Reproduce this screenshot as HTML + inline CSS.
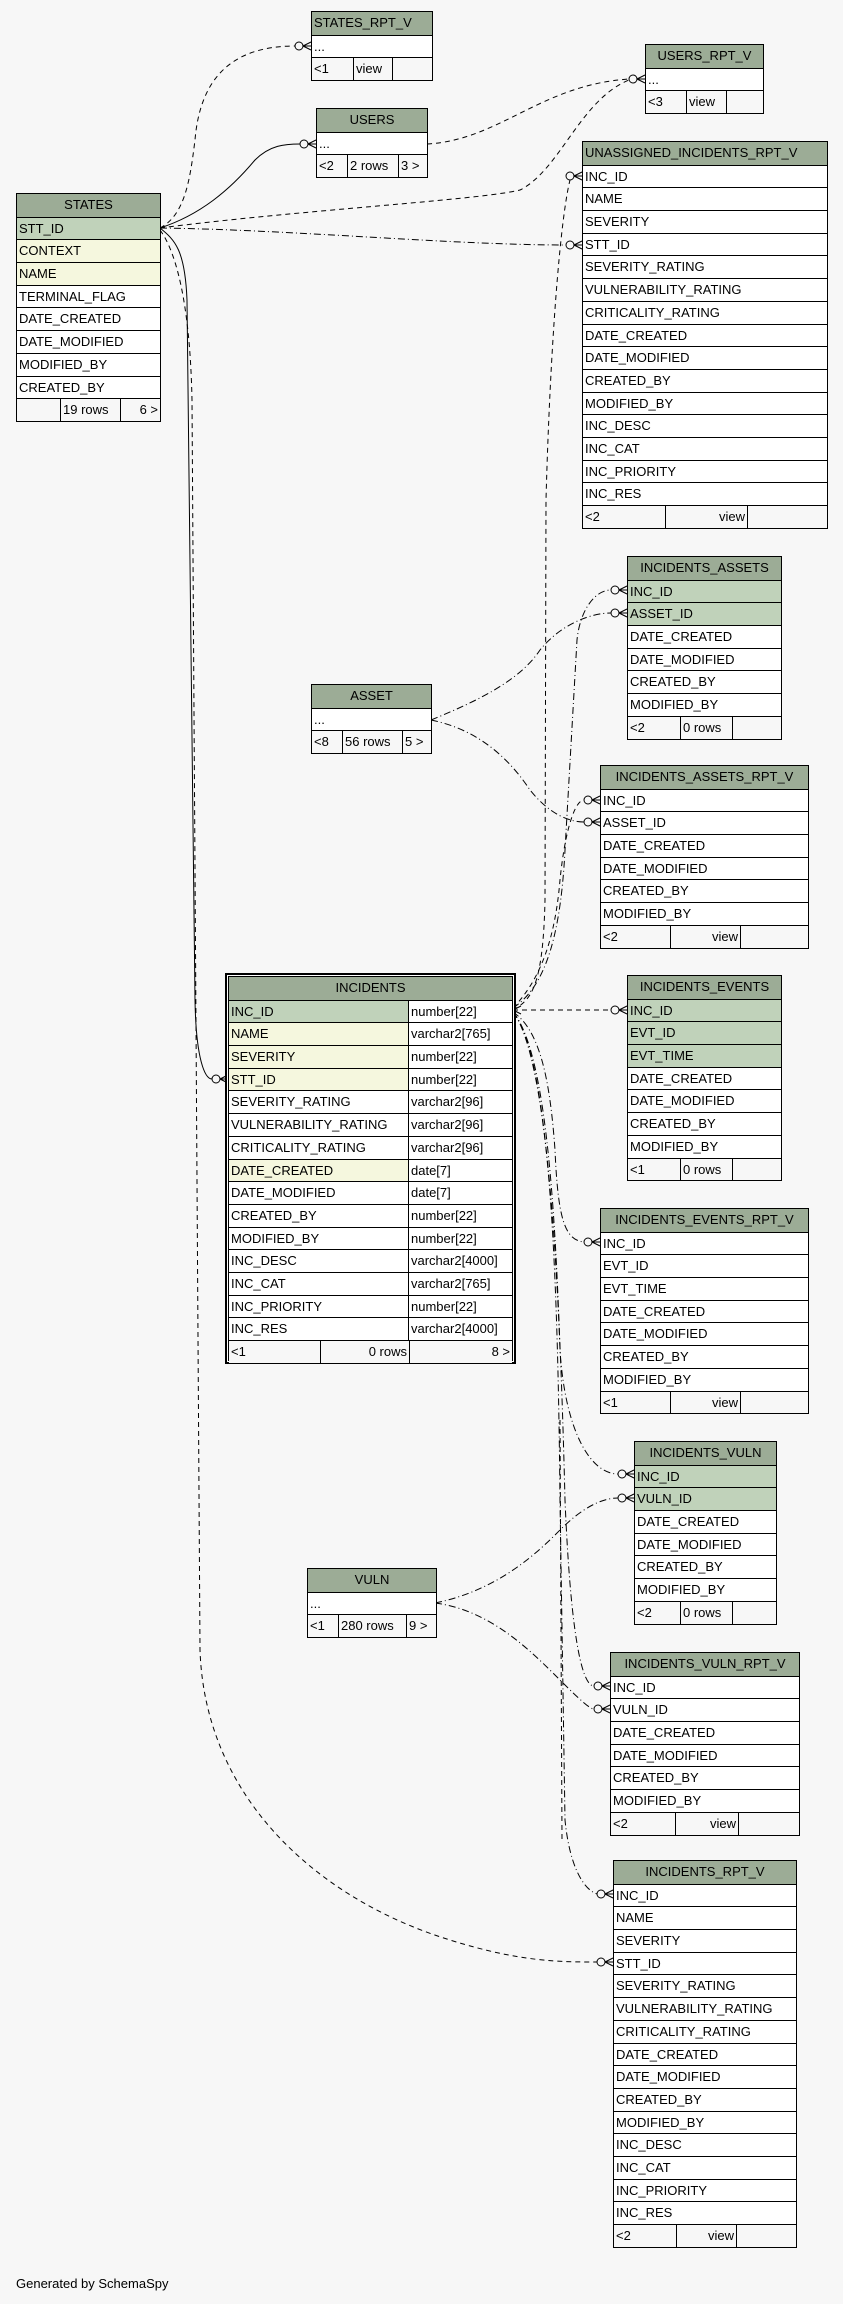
<!DOCTYPE html>
<html><head><meta charset="utf-8"><style>
body{margin:0;width:843px;height:2304px;background:#f7f7f7;position:relative;overflow:hidden;font-family:"Liberation Sans","DejaVu Sans",sans-serif;font-size:13px;color:#000}
.t{position:absolute;border:1px solid #000;background:#fff}
.r{height:22.7px;box-sizing:border-box;border-top:1px solid #000;padding-left:2px;line-height:21px;white-space:nowrap;overflow:hidden}
.h{background:#9cac96;text-align:center;border-top:none;padding:0}
.p{background:#c0d2ba}.y{background:#f5f7de}
.f{display:flex;padding:0;background:#f7f7f7}
.f span{box-sizing:border-box;border-left:1px solid #000;padding:0 2px;overflow:hidden}
.f span:first-child{border-left:none}
.rt{text-align:right}
.inc{position:absolute;left:225px;top:973px;width:287px;height:387px;border:2px solid #000;background:#fff}
.inc .in{position:absolute;left:1px;top:1px;right:1px;bottom:1px;border:1px solid #000}
.c2{display:flex;padding:0}.c2 span{box-sizing:border-box;padding-left:2px}.c2 span:first-child{width:180px;border-right:1px solid #000}
svg{position:absolute;left:0;top:0}
</style></head><body>
<svg width="843" height="2304" fill="none" stroke="#000" stroke-width="1">
<defs><g id="cf"><path d="M-8,0 L0,-4 M-8,0 L0,0 M-8,0 L0,4"/><circle cx="-12" cy="0" r="4" fill="#f7f7f7"/></g></defs>
<g stroke-dasharray="5,4">
<path d="M160,228 C185,215 190,180 195,140 C200,80 230,46 295,46"/>
<path d="M427,144 C500,140 540,85 629,79"/>
<path d="M160,228 C300,210 480,200 520,190 C560,170 580,100 629,80"/>
<path d="M513,1010 C530,1000 543,990 545,900 L546,500 C550,350 560,220 570,180"/>
<path d="M513,1008 C540,980 555,940 560,880 C565,830 575,800 584,800"/>
<path d="M513,1010 L611,1010"/>
<path d="M160,230 C175,250 190,300 192,400 L200,1650 C205,1800 320,1900 450,1940 C520,1962 560,1962 597,1962"/>
<path d="M560,1420 L562,1840"/>
</g>
<g stroke-dasharray="7,3,1,3">
<path d="M160,228 C300,230 450,245 566,245"/>
<path d="M513,1008 C540,990 560,950 565,850 L577,640 C580,610 595,590 611,590"/>
<path d="M431,720 C480,700 520,680 540,650 C560,625 590,613 611,613"/>
<path d="M431,720 C480,730 510,760 530,790 C550,815 570,822 584,822"/>
<path d="M513,1012 C540,1030 550,1080 555,1150 C558,1220 565,1240 584,1242"/>
<path d="M513,1012 C545,1050 555,1200 560,1350 C565,1430 590,1474 618,1474"/>
<path d="M513,1012 C550,1060 560,1300 565,1500 C570,1620 580,1686 594,1686"/>
<path d="M513,1012 C552,1060 558,1300 560,1500 L565,1820 C570,1870 585,1890 597,1894"/>
<path d="M435,1603 C500,1590 540,1550 560,1530 C580,1510 600,1498 618,1498"/>
<path d="M435,1603 C490,1610 530,1650 560,1680 C580,1700 590,1709 594,1709"/>
</g>
<path d="M160,228 C200,215 230,190 255,160 C270,145 285,144 300,144"/>
<path d="M160,228 C175,240 185,250 187,300 L195,1000 C196,1060 205,1079 212,1079"/>
<path d="M513,1010 l8,-4 M513,1010 l8,4"/>
<use href="#cf" x="311" y="46"/><use href="#cf" x="316" y="144"/><use href="#cf" x="645" y="79"/>
<use href="#cf" x="582" y="176"/><use href="#cf" x="582" y="245"/>
<use href="#cf" x="627" y="590"/><use href="#cf" x="627" y="613"/>
<use href="#cf" x="600" y="800"/><use href="#cf" x="600" y="822"/>
<use href="#cf" x="627" y="1010"/><use href="#cf" x="600" y="1242"/>
<use href="#cf" x="634" y="1474"/><use href="#cf" x="634" y="1498"/>
<use href="#cf" x="610" y="1686"/><use href="#cf" x="610" y="1709"/>
<use href="#cf" x="613" y="1894"/><use href="#cf" x="613" y="1962"/>
<use href="#cf" x="228" y="1079"/>
</svg>

<div class="t" style="left:16px;top:193px;width:143px">
<div class="r h">STATES</div><div class="r p">STT_ID</div><div class="r y">CONTEXT</div><div class="r y">NAME</div><div class="r">TERMINAL_FLAG</div><div class="r">DATE_CREATED</div><div class="r">DATE_MODIFIED</div><div class="r">MODIFIED_BY</div><div class="r">CREATED_BY</div>
<div class="r f"><span style="width:43px"></span><span style="width:60px">19 rows</span><span style="width:40px" class="rt">6 &gt;</span></div></div>

<div class="t" style="left:311px;top:11px;width:120px">
<div class="r h" style="text-align:left;padding-left:2px">STATES_RPT_V</div><div class="r">...</div>
<div class="r f"><span style="width:41px">&lt;1</span><span style="width:39px">view</span><span style="width:40px"></span></div></div>

<div class="t" style="left:316px;top:108px;width:110px">
<div class="r h">USERS</div><div class="r">...</div>
<div class="r f"><span style="width:30px">&lt;2</span><span style="width:51px">2 rows</span><span style="width:29px">3 &gt;</span></div></div>

<div class="t" style="left:645px;top:44px;width:117px">
<div class="r h">USERS_RPT_V</div><div class="r">...</div>
<div class="r f"><span style="width:40px">&lt;3</span><span style="width:40px">view</span><span style="width:37px"></span></div></div>

<div class="t" style="left:582px;top:141px;width:244px">
<div class="r h" style="text-align:left;padding-left:2px">UNASSIGNED_INCIDENTS_RPT_V</div>
<div class="r">INC_ID</div><div class="r">NAME</div><div class="r">SEVERITY</div><div class="r">STT_ID</div><div class="r">SEVERITY_RATING</div><div class="r">VULNERABILITY_RATING</div><div class="r">CRITICALITY_RATING</div><div class="r">DATE_CREATED</div><div class="r">DATE_MODIFIED</div><div class="r">CREATED_BY</div><div class="r">MODIFIED_BY</div><div class="r">INC_DESC</div><div class="r">INC_CAT</div><div class="r">INC_PRIORITY</div><div class="r">INC_RES</div>
<div class="r f"><span style="width:82px">&lt;2</span><span style="width:82px" class="rt">view</span><span style="width:80px"></span></div></div>

<div class="t" style="left:627px;top:556px;width:153px">
<div class="r h">INCIDENTS_ASSETS</div><div class="r p">INC_ID</div><div class="r p">ASSET_ID</div><div class="r">DATE_CREATED</div><div class="r">DATE_MODIFIED</div><div class="r">CREATED_BY</div><div class="r">MODIFIED_BY</div>
<div class="r f"><span style="width:52px">&lt;2</span><span style="width:52px">0 rows</span><span style="width:49px"></span></div></div>

<div class="t" style="left:600px;top:765px;width:207px">
<div class="r h">INCIDENTS_ASSETS_RPT_V</div><div class="r">INC_ID</div><div class="r">ASSET_ID</div><div class="r">DATE_CREATED</div><div class="r">DATE_MODIFIED</div><div class="r">CREATED_BY</div><div class="r">MODIFIED_BY</div>
<div class="r f"><span style="width:69px">&lt;2</span><span style="width:70px" class="rt">view</span><span style="width:68px"></span></div></div>

<div class="t" style="left:311px;top:684px;width:119px">
<div class="r h">ASSET</div><div class="r">...</div>
<div class="r f"><span style="width:30px">&lt;8</span><span style="width:60px">56 rows</span><span style="width:29px">5 &gt;</span></div></div>

<div class="inc"><div class="in">
<div class="r h">INCIDENTS</div>
<div class="r c2"><span class="p">INC_ID</span><span>number[22]</span></div>
<div class="r c2"><span class="y">NAME</span><span>varchar2[765]</span></div>
<div class="r c2"><span class="y">SEVERITY</span><span>number[22]</span></div>
<div class="r c2"><span class="y">STT_ID</span><span>number[22]</span></div>
<div class="r c2"><span>SEVERITY_RATING</span><span>varchar2[96]</span></div>
<div class="r c2"><span>VULNERABILITY_RATING</span><span>varchar2[96]</span></div>
<div class="r c2"><span>CRITICALITY_RATING</span><span>varchar2[96]</span></div>
<div class="r c2"><span class="y">DATE_CREATED</span><span>date[7]</span></div>
<div class="r c2"><span>DATE_MODIFIED</span><span>date[7]</span></div>
<div class="r c2"><span>CREATED_BY</span><span>number[22]</span></div>
<div class="r c2"><span>MODIFIED_BY</span><span>number[22]</span></div>
<div class="r c2"><span>INC_DESC</span><span>varchar2[4000]</span></div>
<div class="r c2"><span>INC_CAT</span><span>varchar2[765]</span></div>
<div class="r c2"><span>INC_PRIORITY</span><span>number[22]</span></div>
<div class="r c2"><span>INC_RES</span><span>varchar2[4000]</span></div>
<div class="r f"><span style="width:91px">&lt;1</span><span style="width:89px" class="rt">0 rows</span><span style="width:103px" class="rt">8 &gt;</span></div>
</div></div>

<div class="t" style="left:627px;top:975px;width:153px">
<div class="r h">INCIDENTS_EVENTS</div><div class="r p">INC_ID</div><div class="r p">EVT_ID</div><div class="r p">EVT_TIME</div><div class="r">DATE_CREATED</div><div class="r">DATE_MODIFIED</div><div class="r">CREATED_BY</div><div class="r">MODIFIED_BY</div>
<div class="r f"><span style="width:52px">&lt;1</span><span style="width:52px">0 rows</span><span style="width:49px"></span></div></div>

<div class="t" style="left:600px;top:1208px;width:207px">
<div class="r h">INCIDENTS_EVENTS_RPT_V</div><div class="r">INC_ID</div><div class="r">EVT_ID</div><div class="r">EVT_TIME</div><div class="r">DATE_CREATED</div><div class="r">DATE_MODIFIED</div><div class="r">CREATED_BY</div><div class="r">MODIFIED_BY</div>
<div class="r f"><span style="width:69px">&lt;1</span><span style="width:70px" class="rt">view</span><span style="width:68px"></span></div></div>

<div class="t" style="left:634px;top:1441px;width:141px">
<div class="r h">INCIDENTS_VULN</div><div class="r p">INC_ID</div><div class="r p">VULN_ID</div><div class="r">DATE_CREATED</div><div class="r">DATE_MODIFIED</div><div class="r">CREATED_BY</div><div class="r">MODIFIED_BY</div>
<div class="r f"><span style="width:45px">&lt;2</span><span style="width:52px">0 rows</span><span style="width:44px"></span></div></div>

<div class="t" style="left:307px;top:1568px;width:128px">
<div class="r h">VULN</div><div class="r">...</div>
<div class="r f"><span style="width:30px">&lt;1</span><span style="width:68px">280 rows</span><span style="width:30px">9 &gt;</span></div></div>

<div class="t" style="left:610px;top:1652px;width:188px">
<div class="r h">INCIDENTS_VULN_RPT_V</div><div class="r">INC_ID</div><div class="r">VULN_ID</div><div class="r">DATE_CREATED</div><div class="r">DATE_MODIFIED</div><div class="r">CREATED_BY</div><div class="r">MODIFIED_BY</div>
<div class="r f"><span style="width:64px">&lt;2</span><span style="width:63px" class="rt">view</span><span style="width:61px"></span></div></div>

<div class="t" style="left:613px;top:1860px;width:182px">
<div class="r h">INCIDENTS_RPT_V</div>
<div class="r">INC_ID</div><div class="r">NAME</div><div class="r">SEVERITY</div><div class="r">STT_ID</div><div class="r">SEVERITY_RATING</div><div class="r">VULNERABILITY_RATING</div><div class="r">CRITICALITY_RATING</div><div class="r">DATE_CREATED</div><div class="r">DATE_MODIFIED</div><div class="r">CREATED_BY</div><div class="r">MODIFIED_BY</div><div class="r">INC_DESC</div><div class="r">INC_CAT</div><div class="r">INC_PRIORITY</div><div class="r">INC_RES</div>
<div class="r f"><span style="width:62px">&lt;2</span><span style="width:60px" class="rt">view</span><span style="width:60px"></span></div></div>

<div style="position:absolute;left:16px;top:2276px;font-size:13px">Generated by SchemaSpy</div>
</body></html>
